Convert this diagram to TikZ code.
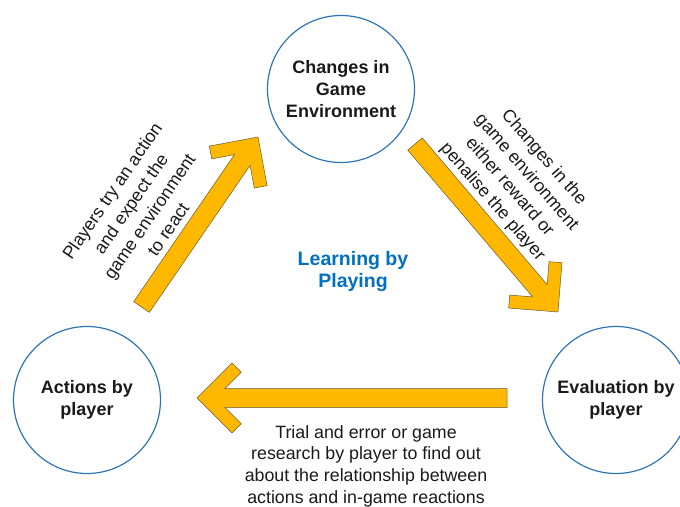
\documentclass[tikz,border=0pt]{standalone}
\usepackage{fontspec}
\setmainfont{Liberation Sans}
\usetikzlibrary{calc}
\definecolor{circblue}{HTML}{2E75B6}
\definecolor{titleblue}{HTML}{0070C0}
\definecolor{arrfill}{HTML}{FFB800}
\definecolor{arrline}{HTML}{6B5A2E}
\definecolor{txt}{HTML}{1A1A1A}
\newcommand{\blkarrow}[2]{%
  \path let \p1=(#1), \p2=(#2) in \pgfextra{%
    \pgfmathsetmacro\arrang{atan2(\y2-\y1,\x2-\x1)}%
    \pgfmathsetmacro\arrlen{veclen(\x2-\x1,\y2-\y1)}%
    \global\let\arrang\arrang \global\let\arrlen\arrlen};
  \draw[blkarr, shift={(#2)}, rotate=\arrang]
    (0pt,0pt) -- (-35pt,35pt) -- (-44.2pt,25.8pt) -- (-27.9pt,9.5pt)
    -- (-\arrlen pt,9.5pt) -- (-\arrlen pt,-9.5pt) -- (-27.9pt,-9.5pt)
    -- (-44.2pt,-25.8pt) -- (-35pt,-35pt) -- cycle;
}
\begin{document}
\begin{tikzpicture}[x=1pt,y=-1pt,
  stage/.style={circle, draw=circblue, line width=1.2pt, minimum size=147pt,
    inner sep=0pt, align=center, font=\fontsize{18}{22}\selectfont\bfseries, text=txt},
  blkarr/.style={fill=arrfill, draw=arrline, line width=0.5pt, line join=miter},
  lbl/.style={align=center, font=\fontsize{17.8}{21.7}\selectfont, text=txt, inner sep=0pt},
  rlbl/.style={align=center, font=\fontsize{17.8}{22.6}\selectfont, text=txt, inner sep=0pt},
  title/.style={align=center, font=\fontsize{19.5}{22}\selectfont\bfseries, text=titleblue, inner sep=0pt},
]
\useasboundingbox (0,0) rectangle (680,506);
\clip (0,0) rectangle (680,506);

\node[stage] (env) at (341,89) {Changes in\\Game\\Environment};
\node[stage] (act) at (87,400) {Actions by\\player};
\node[stage] (eval) at (616,400) {Evaluation by\\player};

\coordinate (a1tail) at (141.5,307);
\coordinate (a1tip) at (258,137);
\coordinate (a2tail) at (415,144);
\coordinate (a2tip) at (558,312);
\coordinate (a3tail) at (507,398);
\coordinate (a3tip) at (197,398);

\blkarrow{a1tail}{a1tip}
\blkarrow{a2tail}{a2tip}
\blkarrow{a3tail}{a3tip}

\node[rlbl, rotate=55.5] (l1) at (140,210) {Players try an action\\and expect the\\game environment\\to react};
\node[rlbl, rotate=-49] (l2) at (518,180) {Changes in the\\game environment\\either reward or\\penalise the player};
\node[lbl] (l3) at (366,466) {Trial and error or game\\research by player to find out\\about the relationship between\\actions and in-game reactions};
\node[title] (t) at (353,271) {Learning by\\Playing};
\end{tikzpicture}
\end{document}
